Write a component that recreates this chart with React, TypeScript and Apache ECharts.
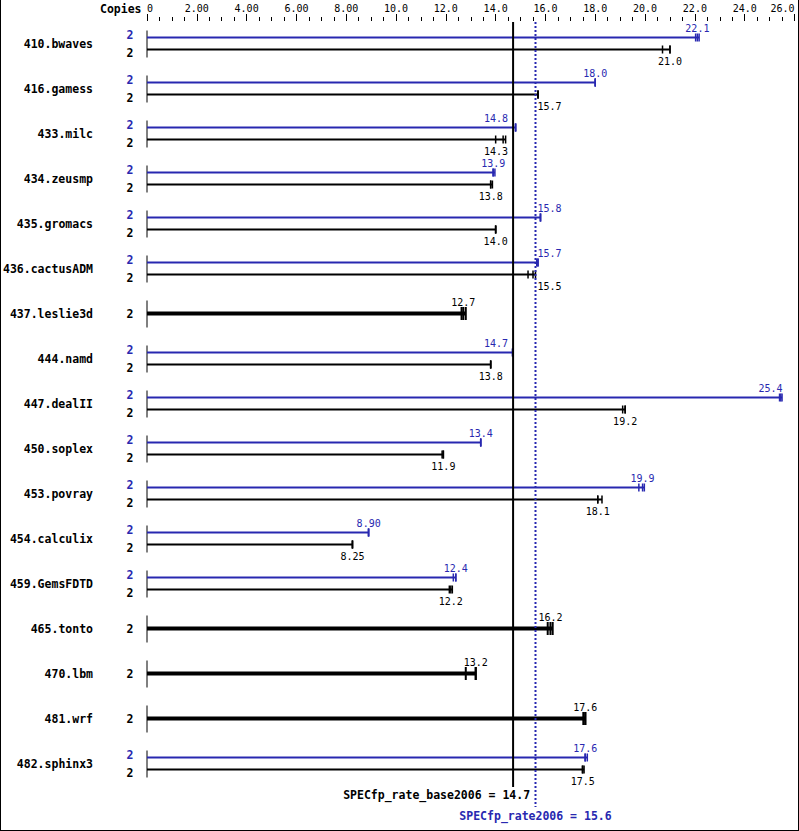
import React, { useEffect, useRef } from "react";
import * as echarts from "echarts";

const benchmarks = [
  "410.bwaves", "416.gamess", "433.milc", "434.zeusmp", "435.gromacs", "436.cactusADM",
  "437.leslie3d", "444.namd", "447.dealII", "450.soplex", "453.povray", "454.calculix",
  "459.GemsFDTD", "465.tonto", "470.lbm", "481.wrf", "482.sphinx3",
];
const baseCopies = [2, 2, 2, 2, 2, 2, 2, 2, 2, 2, 2, 2, 2, 2, 2, 2, 2];
const peakCopies = [2, 2, 2, 2, 2, 2, null, 2, 2, 2, 2, 2, 2, null, null, null, 2];
const baseRatio = [21.0, 15.7, 14.3, 13.8, 14.0, 15.5, 12.7, 13.8, 19.2, 11.9, 18.1, 8.25, 12.2, 16.2, 13.2, 17.6, 17.5];
const peakRatio = [22.1, 18.0, 14.8, 13.9, 15.8, 15.7, null, 14.7, 25.4, 13.4, 19.9, 8.9, 12.4, null, null, null, 17.6];
const baseRuns = [
  [20.7, 21.0, 21.0], [15.7, 15.7, 15.7], [14.0, 14.3, 14.4], [13.8, 13.8, 13.87], [14.0, 14.0, 14.0],
  [15.3, 15.5, 15.6], [12.63, 12.7, 12.8], [13.8, 13.8, 13.8], [19.1, 19.2, 19.2], [11.85, 11.9, 11.9],
  [18.1, 18.1, 18.27], [8.25, 8.25, 8.25], [12.14, 12.2, 12.26], [16.09, 16.2, 16.29], [12.8, 13.2, 13.2],
  [17.52, 17.6, 17.6], [17.48, 17.5, 17.55],
];
const peakRuns = [
  [22.03, 22.1, 22.17], [18.0, 18.0, 18.0], [14.8, 14.8, 14.8], [13.9, 13.9, 13.97], [15.8, 15.8, 15.8],
  [15.65, 15.7, 15.7], null, [14.67, 14.7, 14.7], [25.4, 25.45, 25.5], [13.4, 13.4, 13.4],
  [19.75, 19.9, 19.97], [8.89, 8.9, 8.9], [12.3, 12.4, 12.4], null, null, null, [17.59, 17.6, 17.68],
];
const baseMean = 14.7;
const peakMean = 15.6;
const baseMeanLabel = "SPECfp_rate_base2006 = 14.7";
const peakMeanLabel = "SPECfp_rate2006 = 15.6";

const BLUE = "#2828b0";
const MONO = '"DejaVu Sans Mono", monospace';

function fmt(v: number) {
  return v >= 10 ? v.toFixed(1) : v.toFixed(2);
}

export default function App() {
  const ref = useRef<HTMLDivElement>(null);
  useEffect(() => {
    if (!ref.current) return;
    const chart = echarts.init(ref.current, null, { renderer: "svg" });

    const placeLabel = (cx: number, text: string, lines: number[], maxRight: number) => {
      const w = text.length * 6.02;
      const conflicts = (l: number) => lines.some((L) => l < L + 1.5 && l + w > L - 1.5);
      let left = cx - w / 2;
      if (left + w > maxRight) left = maxRight - w;
      if (!conflicts(left)) return left;
      const cands: number[] = [];
      lines.forEach((L) => {
        cands.push(L - 5 - w);
        cands.push(L + 2);
      });
      const ok = cands.filter((c) => !conflicts(c));
      ok.sort((a, b) => Math.abs(a + w / 2 - cx) - Math.abs(b + w / 2 - cx));
      return ok.length ? ok[0] : left;
    };

    const renderRow = (params: any, api: any) => {
      const i = api.value(0);
      const cs = params.coordSys;
      const [x0, yc] = api.coord([0, i]);
      const xb = api.coord([baseMean, i])[0];
      const xp = api.coord([peakMean, i])[0];
      const lines = [xb, xp];
      const maxRight = cs.x + cs.width - 12;
      const children: any[] = [];
      children.push({
        type: "line",
        shape: { x1: x0, y1: yc - 13, x2: x0, y2: yc + 14 },
        style: { stroke: "#000", lineWidth: 1 },
      });
      const bar = (runs: number[], y: number, color: string, width: number, tickH: number, tickW: number) => {
        const xmax = api.coord([Math.max(...runs), i])[0];
        children.push({
          type: "line",
          shape: { x1: x0, y1: y, x2: xmax, y2: y },
          style: { stroke: color, lineWidth: width },
        });
        runs.forEach((r) => {
          const x = api.coord([r, i])[0];
          children.push({
            type: "line",
            shape: { x1: x, y1: y - tickH / 2, x2: x, y2: y + tickH / 2 },
            style: { stroke: color, lineWidth: tickW },
          });
        });
      };
      const label = (v: number, y: number, color: string) => {
        const t = fmt(v);
        const cx = api.coord([v, i])[0];
        children.push({
          type: "text",
          x: placeLabel(cx, t, lines, maxRight),
          y,
          style: { text: t, fill: color, font: `10px ${MONO}`, align: "left", verticalAlign: "middle" },
        });
      };
      const copies = (n: number, y: number, color: string) => {
        children.push({
          type: "text",
          x: x0 - 17,
          y,
          style: { text: String(n), fill: color, font: `bold 11.5px ${MONO}`, align: "center", verticalAlign: "middle" },
        });
      };
      if (peakRatio[i] == null) {
        bar(baseRuns[i], yc, "#000", 4, 13, 2);
        label(baseRatio[i], yc - 11, "#000");
        copies(baseCopies[i], yc, "#000");
      } else {
        bar(peakRuns[i] as number[], yc - 6, BLUE, 2, 8, 1.5);
        bar(baseRuns[i], yc + 6, "#000", 2, 8, 1.5);
        label(peakRatio[i] as number, yc - 15.5, BLUE);
        label(baseRatio[i], yc + 17.5, "#000");
        copies(peakCopies[i] as number, yc - 9, BLUE);
        copies(baseCopies[i], yc + 9.5, "#000");
      }
      return { type: "group", children };
    };

    const renderMeans = (params: any, api: any) => {
      const cs = params.coordSys;
      const xb = api.coord([baseMean, 0])[0];
      const xp = api.coord([peakMean, 0])[0];
      const top = cs.y + 1;
      const bottom = cs.y + cs.height;
      return {
        type: "group",
        children: [
          {
            type: "line",
            shape: { x1: xp, y1: top, x2: xp, y2: bottom + 21 },
            style: { stroke: BLUE, lineWidth: 2, lineDash: [2, 2] },
          },
          {
            type: "line",
            shape: { x1: xb, y1: top, x2: xb, y2: bottom + 1 },
            style: { stroke: "#000", lineWidth: 2 },
          },
          {
            type: "text",
            x: xb + 17,
            y: bottom + 8.5,
            style: { text: baseMeanLabel, fill: "#000", font: `bold 11.5px ${MONO}`, align: "right", verticalAlign: "middle" },
          },
          {
            type: "text",
            x: xp,
            y: bottom + 30,
            style: { text: peakMeanLabel, fill: BLUE, font: `bold 11.5px ${MONO}`, align: "center", verticalAlign: "middle" },
          },
        ],
      };
    };

    chart.setOption({
      animation: false,
      backgroundColor: "#fff",
      grid: { left: 147, top: 21, width: 647.5, height: 765 },
      xAxis: {
        type: "value",
        position: "top",
        min: 0,
        max: 26,
        interval: 2,
        axisLine: { show: false },
        splitLine: { show: false },
        axisTick: { show: true, length: 7, lineStyle: { color: "#000", width: 1 } },
        minorTick: { show: true, splitNumber: 4, length: 4, lineStyle: { color: "#000", width: 1 } },
        axisLabel: {
          color: "#000",
          fontFamily: MONO,
          fontSize: 10,
          margin: 8,
          alignMinLabel: "left",
          alignMaxLabel: "right",
          formatter: (v: number) => (v === 0 ? "0" : fmt(v)),
        },
      },
      yAxis: {
        type: "category",
        data: benchmarks,
        inverse: true,
        axisLine: { show: false },
        axisTick: { show: false },
        splitLine: { show: false },
        axisLabel: { color: "#000", fontFamily: MONO, fontSize: 11.5, fontWeight: "bold", margin: 54 },
      },
      graphic: [
        {
          type: "text",
          left: 100,
          top: 3,
          style: { text: "Copies", fill: "#000", font: `bold 11.5px ${MONO}` },
        },
        { type: "line", shape: { x1: 0.5, y1: 0, x2: 0.5, y2: 831 }, style: { stroke: "#000", lineWidth: 1 } },
        { type: "line", shape: { x1: 798.5, y1: 0, x2: 798.5, y2: 831 }, style: { stroke: "#000", lineWidth: 1 } },
        { type: "line", shape: { x1: 0, y1: 830.5, x2: 799, y2: 830.5 }, style: { stroke: "#000", lineWidth: 1 } },
      ],
      series: [
        {
          type: "custom",
          renderItem: renderRow,
          clip: false,
          data: benchmarks.map((_, i) => [i]),
          encode: { y: 0 },
          silent: true,
        },
        {
          type: "custom",
          renderItem: renderMeans,
          clip: false,
          data: [[0]],
          encode: { y: 0 },
          silent: true,
          z: 3,
        },
      ],
    });
    return () => chart.dispose();
  }, []);
  return (
    <div
      ref={ref}
      style={{ position: "absolute", left: 0, top: 0, width: 799, height: 831, background: "#fff" }}
    />
  );
}
